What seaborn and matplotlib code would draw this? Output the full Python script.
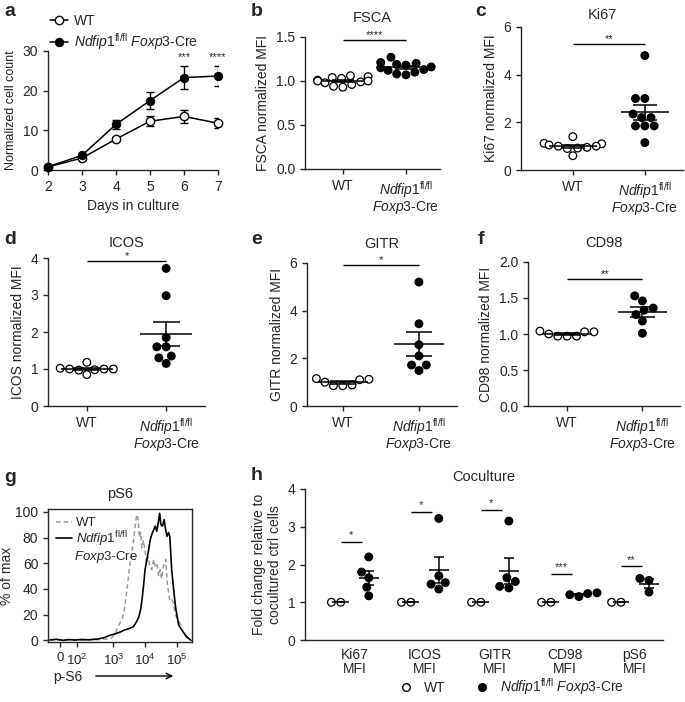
import numpy as np
import pandas as pd
import matplotlib.pyplot as plt
from matplotlib.lines import Line2D
import seaborn as sns

sns.set_style("ticks")
plt.rcParams['font.family'] = ['Liberation Sans', 'DejaVu Sans']
plt.rcParams['mathtext.fontset'] = 'custom'
plt.rcParams['mathtext.rm'] = 'Liberation Sans'
plt.rcParams['mathtext.it'] = 'Liberation Sans:italic'
plt.rcParams['mathtext.bf'] = 'Liberation Sans:bold'
plt.rcParams['axes.linewidth'] = 1.0
plt.rcParams['xtick.major.width'] = 1.0
plt.rcParams['ytick.major.width'] = 1.0
plt.rcParams['xtick.major.size'] = 3.5
plt.rcParams['ytick.major.size'] = 3.5
plt.rcParams['xtick.labelsize'] = 10
plt.rcParams['ytick.labelsize'] = 10
plt.rcParams['axes.labelsize'] = 10

KO_ONE = r'$\mathit{Ndfip1}^{\mathrm{fl/fl}}$ $\mathit{Foxp3}$-Cre'
KO_TWO = r'$\mathit{Ndfip1}^{\mathrm{fl/fl}}$' + '\n' + r'$\mathit{Foxp3}$-Cre'

# ---- panel a: cell counts
days = [2, 3, 4, 5, 6, 7]
wt_mean = [0.8, 3.0, 7.8, 12.3, 13.5, 11.8]
wt_sem = [0.3, 0.4, 0.6, 1.2, 1.6, 1.2]
ko_mean = [0.8, 3.7, 11.5, 17.5, 23.3, 23.7]
ko_sem = [0.3, 0.4, 1.2, 2.1, 3.0, 2.6]
a_sig_days = [6, 7]
a_sig = ['***', '****']

# ---- panels b-f: normalized MFI
fsca_wt = [1.06, 1.05, 1.04, 1.03, 1.01, 1.0, 1.0, 0.99, 0.98, 0.96, 0.94, 0.93]
fsca_ko = [1.27, 1.21, 1.2, 1.19, 1.18, 1.16, 1.15, 1.13, 1.12, 1.1, 1.08, 1.07]
ki67_wt = [1.4, 1.12, 1.1, 1.05, 1.0, 1.0, 0.95, 0.92, 0.9, 0.6]
ki67_ko = [4.8, 3.0, 3.0, 2.35, 2.2, 2.2, 1.85, 1.85, 1.85, 1.15]
icos_wt = [1.18, 1.02, 1.0, 1.0, 1.0, 0.98, 0.97, 0.85]
icos_ko = [3.72, 2.98, 1.85, 1.6, 1.6, 1.35, 1.3, 1.15]
gitr_wt = [1.15, 1.12, 1.1, 1.0, 0.88, 0.85, 0.85]
gitr_ko = [5.2, 3.45, 2.57, 2.1, 1.72, 1.72, 1.49]
cd98_wt = [1.04, 1.03, 1.03, 0.97, 0.97, 0.97, 1.0]
cd98_ko = [1.53, 1.46, 1.36, 1.33, 1.27, 1.18, 1.01]

# ---- panel g: pS6 histogram (x in decades)
g_wt_x = [1.0, 1.2, 1.4, 1.6, 1.8, 2.0, 2.2, 2.4, 2.6, 2.8, 2.95, 3.05, 3.12, 3.2, 3.28,
          3.35, 3.44, 3.5, 3.56, 3.63, 3.68, 3.74, 3.78, 3.82, 3.86, 3.9, 3.95, 4.0,
          4.05, 4.1, 4.15, 4.21, 4.27, 4.32, 4.37, 4.43, 4.48, 4.52, 4.58, 4.65, 4.7,
          4.78, 4.84, 4.88, 4.95, 5.02, 5.1, 5.2, 5.3, 5.4]
g_wt_y = [0.5, 0.0, 0.8, 0.2, 0.6, 0.0, 0.5, 0.3, 0.8, 1.0, 2.0, 5.0, 9.0, 13.0, 17.0,
          24.0, 42.0, 55.0, 66.0, 76.0, 88.0, 98.0, 95.0, 80.0, 84.0, 72.0, 78.0, 70.0,
          60.0, 65.0, 58.0, 55.0, 63.0, 58.0, 60.0, 50.0, 55.0, 48.0, 58.0, 63.0, 45.0,
          31.0, 32.0, 30.0, 20.0, 17.0, 13.0, 6.0, 3.0, 0.0]
g_ko_x = [1.0, 1.2, 1.4, 1.6, 1.8, 2.0, 2.2, 2.49, 2.7, 2.9, 3.05, 3.22, 3.35, 3.48, 3.63,
          3.72, 3.8, 3.86, 3.9, 3.95, 4.0, 4.05, 4.11, 4.16, 4.22, 4.27, 4.32, 4.37,
          4.42, 4.46, 4.5, 4.55, 4.6, 4.65, 4.69, 4.74, 4.78, 4.84, 4.9, 4.96, 5.06,
          5.16, 5.3, 5.45]
g_ko_y = [0.3, 0.8, 0.0, 0.6, 0.2, 0.7, 0.4, 1.0, 2.0, 4.0, 5.0, 6.5, 8.0, 9.0, 10.5,
          14.0, 18.0, 24.0, 31.0, 42.0, 55.0, 62.0, 70.0, 78.0, 83.0, 86.0, 89.0, 85.0,
          92.0, 99.0, 90.0, 89.0, 94.0, 86.0, 81.0, 84.0, 81.0, 55.0, 40.0, 26.0, 12.0,
          8.0, 3.0, 0.0]
g_ticks = [1.33, 1.84, 3.0, 4.0, 5.0]
g_ticklabels = ['0', r'$10^2$', r'$10^3$', r'$10^4$', r'$10^5$']

# ---- panel h: coculture
h_markers = ['Ki67\nMFI', 'ICOS\nMFI', 'GITR\nMFI', 'CD98\nMFI', 'pS6\nMFI']
h_wt = [[1.0, 1.0], [1.0, 1.0], [1.0, 1.0], [1.0, 1.0], [1.0, 1.0]]
h_ko = [[2.2, 1.8, 1.65, 1.4, 1.17],
        [3.22, 1.7, 1.52, 1.48, 1.35],
        [3.15, 1.65, 1.55, 1.42, 1.38],
        [1.25, 1.23, 1.2, 1.15],
        [1.63, 1.58, 1.27]]
h_sig = ['*', '*', '*', '***', '**']
h_sig_y = [2.6, 3.4, 3.45, 1.75, 1.95]

W, H = 685, 702
fig = plt.figure(figsize=(W / 100, H / 100), dpi=100)


def px_axes(x0, y0, x1, y1):
    return fig.add_axes([x0 / W, 1 - y1 / H, (x1 - x0) / W, (y1 - y0) / H])


def mean_sem(ax, x, vals, half, cap, z=4):
    m = np.mean(vals)
    s = np.std(vals, ddof=1) / np.sqrt(len(vals))
    ax.hlines(m, x - half, x + half, color='black', lw=1.1, zorder=z)
    ax.hlines([m - s, m + s], x - cap, x + cap, color='black', lw=1.1, zorder=z)
    ax.vlines(x, m - s, m + s, color='black', lw=1.1, zorder=z)


def dot_panel(ax, wt, ko, title, ylabel, ylim, yticks, sig, sig_y, xlim, pad):
    df = pd.DataFrame({'group': ['WT'] * len(wt) + ['KO'] * len(ko),
                       'value': wt + ko})
    sns.swarmplot(data=df, x='group', y='value', hue='group', order=['WT', 'KO'],
                  palette={'WT': 'white', 'KO': 'black'}, edgecolor='black',
                  linewidth=0.9, size=5.5, legend=False, ax=ax, zorder=3)
    for i, vals in enumerate([wt, ko]):
        mean_sem(ax, i, vals, 0.33, 0.17)
    ax.hlines(sig_y, 0, 1, color='black', lw=1.0, clip_on=False)
    ax.text(0.5, sig_y, sig, ha='center', va='bottom', fontsize=8, clip_on=False)
    ax.set_xlim(*xlim)
    ax.set_ylim(*ylim)
    ax.set_yticks(yticks)
    ax.set_xticks([0, 1])
    ax.set_xticklabels(['WT', KO_TWO], linespacing=0.95)
    ax.set_xlabel('')
    ax.set_ylabel(ylabel)
    ax.set_title(title, fontsize=10.5, pad=pad)
    sns.despine(ax=ax)


# a
ax = px_axes(48, 51, 218, 170)
sns.lineplot(x=days, y=wt_mean, color='black', marker='o', markersize=6,
             markerfacecolor='white', markeredgecolor='black', markeredgewidth=1,
             lw=1.1, label='WT', ax=ax, zorder=4, clip_on=False)
sns.lineplot(x=days, y=ko_mean, color='black', marker='o', markersize=6,
             markerfacecolor='black', markeredgecolor='black', lw=1.1,
             label=KO_ONE, ax=ax, zorder=4, clip_on=False)
ax.errorbar(days, wt_mean, yerr=wt_sem, fmt='none', ecolor='black', capsize=3,
            elinewidth=1, zorder=3)
ax.errorbar(days, ko_mean, yerr=ko_sem, fmt='none', ecolor='black', capsize=3,
            elinewidth=1, zorder=3)
for d, s in zip(a_sig_days, a_sig):
    ax.text(d, 27.2, s, ha='center', va='bottom', fontsize=8, clip_on=False)
ax.set_xlim(2, 7)
ax.set_ylim(0, 30)
ax.set_xticks(days)
ax.set_yticks([0, 10, 20, 30])
ax.set_xlabel('Days in culture')
ax.set_ylabel('Normalized cell count', fontsize=9)
ax.legend(loc='upper left', bbox_to_anchor=(-0.02, 1.36), frameon=False,
          handlelength=1.3, handletextpad=0.4, labelspacing=0.25, fontsize=10,
          borderaxespad=0)
sns.despine(ax=ax)

# b-f
dot_panel(px_axes(305, 37, 440, 169), fsca_wt, fsca_ko, 'FSCA', 'FSCA normalized MFI',
          (0, 1.5), [0.0, 0.5, 1.0, 1.5], '****', 1.47, (-0.6, 1.54), 11)
dot_panel(px_axes(521, 27, 683, 170), ki67_wt, ki67_ko, 'Ki67', 'Ki67 normalized MFI',
          (0, 6), [0, 2, 4, 6], '**', 5.27, (-0.72, 1.53), 6)
dot_panel(px_axes(48, 258, 205, 406), icos_wt, icos_ko, 'ICOS', 'ICOS normalized MFI',
          (0, 4), [0, 1, 2, 3, 4], '*', 3.93, (-0.49, 1.49), 8)
dot_panel(px_axes(307, 263, 457, 406), gitr_wt, gitr_ko, 'GITR', 'GITR normalized MFI',
          (0, 6), [0, 2, 4, 6], '*', 5.92, (-0.47, 1.5), 11)
dot_panel(px_axes(528, 262, 680, 406), cd98_wt, cd98_ko, 'CD98', 'CD98 normalized MFI',
          (0, 2), [0.0, 0.5, 1.0, 1.5, 2.0], '**', 1.76, (-0.52, 1.5), 11)

# g
ax = px_axes(48, 509, 192, 642)
sns.lineplot(x=g_wt_x, y=g_wt_y, color='#9a9a9a', lw=1.1, ax=ax, label='WT')
ax.lines[-1].set_linestyle((0, (3, 2)))
sns.lineplot(x=g_ko_x, y=g_ko_y, color='black', lw=1.2, ax=ax,
             label=r'$\mathit{Ndfip1}^{\mathrm{fl/fl}}$')
ax.set_xlim(0.94, 5.48)
ax.set_ylim(-1.3, 102.3)
ax.set_yticks([0, 20, 40, 60, 80, 100])
ax.set_xticks(g_ticks)
ax.set_xticklabels(g_ticklabels, fontsize=9.5)
ax.tick_params(axis='x', pad=4)
ax.set_ylabel('% of max', labelpad=1)
ax.set_title('pS6', fontsize=10.5, pad=8)
ax.legend(loc='upper left', bbox_to_anchor=(0.0, 1.0), frameon=False,
          handlelength=1.2, handletextpad=0.3, labelspacing=0.0, fontsize=9.5,
          borderaxespad=0.2)
fig.text(74 / W, 1 - 557 / H, r'$\mathit{Foxp3}$-Cre', ha='left', va='center',
         fontsize=9.5)
fig.text(53 / W, 1 - 677 / H, 'p-S6', ha='left', va='center', fontsize=10)
ax.annotate('', xy=(176 / W, 1 - 676 / H), xytext=(93 / W, 1 - 676 / H),
            xycoords='figure fraction', textcoords='figure fraction',
            arrowprops=dict(arrowstyle='->', lw=1.0, color='black'))

# h
ax = px_axes(305, 489, 663, 640)
rows = []
for m, wv, kv in zip(h_markers, h_wt, h_ko):
    rows += [(m, 'WT', v) for v in wv]
    rows += [(m, 'KO', v) for v in kv]
dfh = pd.DataFrame(rows, columns=['marker', 'group', 'value'])
sns.swarmplot(data=dfh, x='marker', y='value', hue='group', hue_order=['WT', 'KO'],
              order=h_markers, dodge=True, palette={'WT': 'white', 'KO': 'black'},
              edgecolor='black', linewidth=0.9, size=5.5, legend=False, ax=ax, zorder=3)
for i in range(len(h_markers)):
    mean_sem(ax, i - 0.2, h_wt[i], 0.12, 0.06)
    mean_sem(ax, i + 0.2, h_ko[i], 0.14, 0.07)
    ax.hlines(h_sig_y[i], i - 0.2, i + 0.1, color='black', lw=1.0)
    ax.text(i - 0.05, h_sig_y[i] + 0.04, h_sig[i], ha='center', va='bottom', fontsize=8)
ax.set_xlim(-0.71, 4.4)
ax.set_ylim(0, 4)
ax.set_yticks([0, 1, 2, 3, 4])
ax.set_xticks(range(len(h_markers)))
ax.set_xticklabels(h_markers, linespacing=0.95)
ax.tick_params(axis='x', length=0, pad=6)
ax.set_xlabel('')
ax.set_ylabel('Fold change relative to\ncocultured ctrl cells')
ax.set_title('Coculture', fontsize=10.5, pad=6)
sns.despine(ax=ax)
handles = [Line2D([], [], marker='o', ls='none', mfc='white', mec='black', ms=5.5),
           Line2D([], [], marker='o', ls='none', mfc='black', mec='black', ms=5.5)]
fig.legend(handles, ['WT', KO_ONE], loc='center', bbox_to_anchor=(508 / W, 1 - 687 / H),
           ncol=2, frameon=False, handletextpad=0.3, columnspacing=1.6, fontsize=10)

# panel letters
for lab, (x, y) in zip('abcdefgh', [(10, 12), (257, 11), (481, 12), (10, 240),
                                     (257, 240), (481, 240), (10, 477), (257, 475)]):
    fig.text(x / W, 1 - y / H, lab, fontsize=14, fontweight='bold',
             ha='center', va='center')

fig.savefig('out.png', dpi=100)
